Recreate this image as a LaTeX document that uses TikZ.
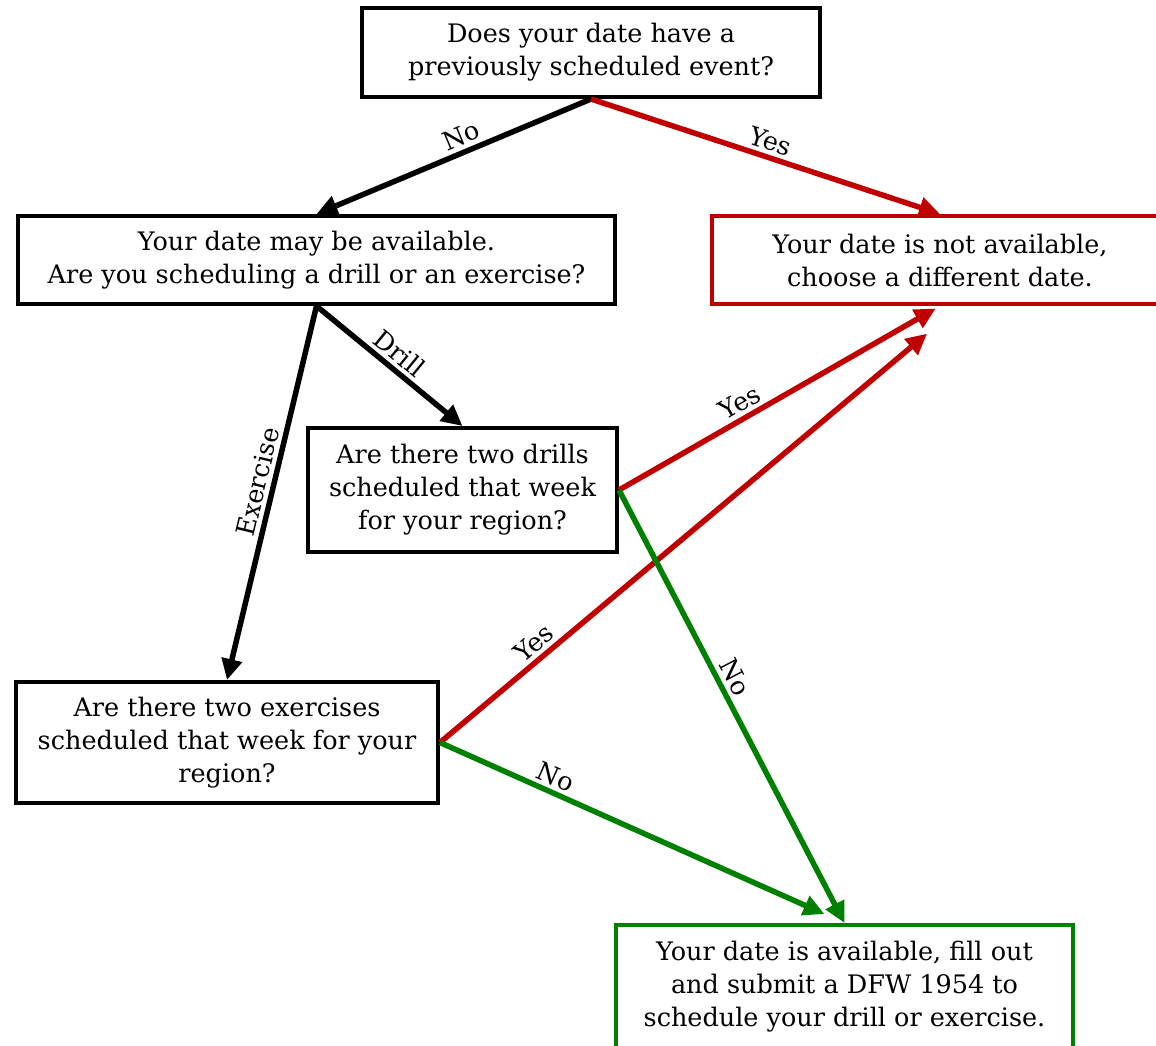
\documentclass[tikz,border=0pt]{standalone}
\usepackage{fontspec}
\setmainfont{DejaVu Serif}
\usetikzlibrary{arrows.meta,calc}
\definecolor{nored}{RGB}{192,0,0}
\definecolor{okgreen}{RGB}{0,128,0}
\begin{document}
\begin{tikzpicture}[x=1pt,y=-1pt,
  box/.style={draw=black,line width=4pt,rectangle,align=center,inner sep=0pt,
    font=\fontsize{25.5}{33}\selectfont},
  flow/.style={line width=5.5pt,-{Triangle[length=21pt,width=20pt]}},
  lbl/.style={sloped,above,text=black,inner sep=4pt,font=\fontsize{25.5}{28}\selectfont}]
\useasboundingbox (0,0) rectangle (1156,1045);
\clip (0,0) rectangle (1156,1045);
\fill[white] (0,0) rectangle (1156,1045);

% decision and result boxes
\node[box,minimum width=458pt,minimum height=89pt] (top) at (591,52.5)
  {Does your date have a\\previously scheduled event?};
\node[box,minimum width=597pt,minimum height=88pt] (maybe) at (316.5,260)
  {Your date may be available.\\Are you scheduling a drill or an exercise?};
\node[box,draw=nored,minimum width=456pt,minimum height=88pt] (notavail) at (940,260)
  {Your date is not available,\\choose a different date.};
\node[box,minimum width=309pt,minimum height=124pt] (drill) at (462.5,490)
  {Are there two drills\\scheduled that week\\for your region?};
\node[box,minimum width=422pt,minimum height=121pt] (exer) at (227,742.5)
  {Are there two exercises\\scheduled that week for your\\region?};
\node[box,draw=okgreen,minimum width=457pt,minimum height=124pt] (avail) at (844.5,987)
  {Your date is available, fill out\\and submit a DFW 1954 to\\schedule your drill or exercise.};

% connectors
\draw[flow] (top.south) -- node[lbl,pos=0.45] {No} (maybe.north);
\draw[flow,nored] (top.south) -- node[lbl,pos=0.5] {Yes} (notavail.north);
\draw[flow] (maybe.south) -- node[lbl,pos=0.5] {Drill} (drill.north);
\draw[flow] (maybe.south) -- node[lbl,pos=0.48] {Exercise} (exer.north);
\draw[flow,nored,shorten >=5pt] (drill.east) -- node[lbl,pos=0.4] {Yes} (notavail.south);
\draw[flow,nored,shorten >=43pt] (exer.east) -- node[lbl,pos=0.2] {Yes} ($(notavail.south)+(20,0)$);
\draw[flow,okgreen] (drill.east) -- node[lbl,pos=0.45] {No} (avail.north);
\draw[flow,okgreen,shorten >=22pt] (exer.east) -- node[lbl,pos=0.27] {No} (avail.north);
\end{tikzpicture}
\end{document}
